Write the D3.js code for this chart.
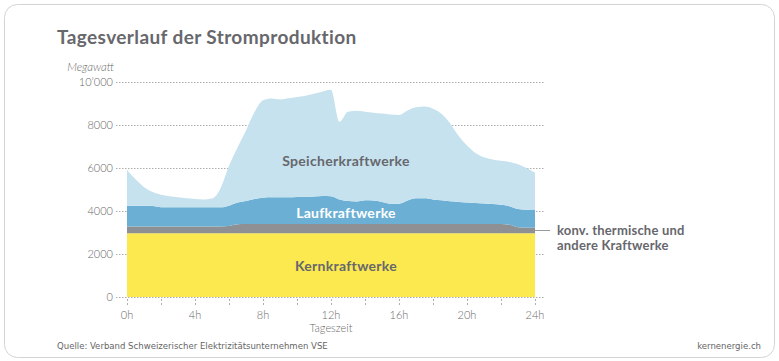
<!DOCTYPE html>
<html>
<head>
<meta charset="utf-8">
<script src="https://cdn.jsdelivr.net/npm/d3@7"></script>
<style>
  body { margin: 0; background: #fff; }
  svg text { font-family: "Lato", "DejaVu Sans", sans-serif; }
</style>
</head>
<body>
<div id="chart"></div>
<script>
// Stunden im Halbstundentakt
const hours = d3.range(0, 24.01, 0.5);

// Megawatt je Kraftwerkstyp (nicht kumuliert)
const kern = [2960,2960,2960,2960,2960,2960,2960,2960,2960,2960,2960,2960,2960,2960,2960,2960,2960,2960,2960,2960,2960,2960,2960,2960,2960,
              2960,2960,2960,2960,2960,2960,2960,2960,2960,2960,2960,2960,2960,2960,2960,2960,2960,2960,2960,2960,2960,2960,2960,2960];
const thermisch = [320,320,320,320,320,320,320,320,320,320,320,320,340,420,430,430,430,430,430,430,430,430,430,430,430,
                   430,430,430,430,430,430,430,430,430,430,430,430,430,430,430,430,430,430,430,430,400,290,270,260];
const lauf = [960,960,960,950,900,890,890,890,890,890,890,890,950,1010,1080,1170,1230,1250,1250,1250,1260,1270,1290,1310,1300,
              1150,1070,1050,1110,1100,1030,950,950,1100,1200,1200,1150,1110,1060,1030,1000,980,960,930,900,860,840,830,830];
const speicher = [1670,1240,880,650,580,520,470,420,390,370,410,880,1850,2560,3280,4040,4530,4590,4550,4600,4650,4700,4770,4860,4950,
                  3610,4160,4220,4120,4080,4110,4150,4130,4190,4230,4270,4220,4020,3630,3080,2660,2330,2150,2080,2050,2060,2090,1940,1730];

const seriesKeys = ["kern", "thermisch", "lauf", "speicher"];
const seriesColors = ["#fce94f", "#8f9093", "#6bb0d4", "#c6e2ef"];

const yTicks = [0, 2000, 4000, 6000, 8000, 10000];
const yTickLabels = ["0", "2000", "4000", "6000", "8000", "10’000"];
const xTicks = d3.range(0, 25, 2);
const xLabelTicks = [0, 4, 8, 12, 16, 20, 24];

const width = 779, height = 361;
const x0 = 127, x1 = 535, yBase = 297, yTop = 82;
const textGray = "#67676c";

const svg = d3.select("#chart").append("svg")
    .attr("width", width)
    .attr("height", height);

// Rahmen
svg.append("rect")
    .attr("x", 4.5).attr("y", 4.5)
    .attr("width", width - 9).attr("height", height - 8)
    .attr("rx", 13)
    .style("fill", "#fff")
    .style("stroke", "#d4d4d4");

svg.append("text")
    .attr("x", 57).attr("y", 44)
    .text("Tagesverlauf der Stromproduktion")
    .style("font-size", "19px")
    .style("font-weight", "bold")
    .style("letter-spacing", "0.4px")
    .style("fill", textGray);

const x = d3.scaleLinear().domain([0, 24]).range([x0, x1]);
const y = d3.scaleLinear().domain([0, 10000]).range([yBase, yTop]);

const table = hours.map((h, i) => ({
    h: h, kern: kern[i], thermisch: thermisch[i], lauf: lauf[i], speicher: speicher[i]
}));
const stacked = d3.stack().keys(seriesKeys)(table);

// Gitterlinien
svg.append("g").selectAll("line")
    .data(yTicks)
    .enter().append("line")
    .attr("x1", 116).attr("x2", 545)
    .attr("y1", d => Math.round(y(d)) + 0.5)
    .attr("y2", d => Math.round(y(d)) + 0.5)
    .style("stroke", "#999")
    .style("stroke-width", 0.8)
    .style("stroke-dasharray", "1.5,1.5");

svg.append("g").selectAll("text")
    .data(yTicks)
    .enter().append("text")
    .attr("x", 113)
    .attr("y", d => y(d) + 4)
    .attr("text-anchor", "end")
    .text((d, i) => yTickLabels[i])
    .style("font-size", "11px")
    .style("font-weight", 300)
    .style("fill", "#6a6a6a");

svg.append("text")
    .attr("x", 114).attr("y", 71)
    .attr("text-anchor", "end")
    .text("Megawatt")
    .style("font-size", "11.5px")
    .style("font-style", "italic")
    .style("font-weight", 300)
    .style("fill", "#6a6a6a");

// Flächen
const area = d3.area()
    .x(d => x(d.data.h))
    .y0(d => y(d[0]))
    .y1(d => y(d[1]))
    .curve(d3.curveMonotoneX);

svg.append("g").selectAll("path")
    .data(stacked)
    .enter().append("path")
    .attr("d", area)
    .style("fill", (d, i) => seriesColors[i]);

// x-Achse
svg.append("g").selectAll("line")
    .data(xTicks)
    .enter().append("line")
    .attr("x1", d => Math.round(x(d)) + 0.5)
    .attr("x2", d => Math.round(x(d)) + 0.5)
    .attr("y1", yBase + 2).attr("y2", yBase + 10)
    .style("stroke", "#999")
    .style("stroke-width", 0.8)
    .style("stroke-dasharray", "2,2");

svg.append("g").selectAll("text")
    .data(xLabelTicks)
    .enter().append("text")
    .attr("x", d => x(d))
    .attr("y", 319)
    .attr("text-anchor", "middle")
    .text(d => d + "h")
    .style("font-size", "11px")
    .style("font-weight", 300)
    .style("fill", "#6a6a6a");

svg.append("text")
    .attr("x", x(12)).attr("y", 332)
    .attr("text-anchor", "middle")
    .text("Tageszeit")
    .style("font-size", "11px")
    .style("font-weight", 300)
    .style("fill", "#6a6a6a");

// Beschriftungen in den Flächen
const labels = [
    { t: "Speicherkraftwerke", y: 166, c: textGray },
    { t: "Laufkraftwerke", y: 218, c: "#fff" },
    { t: "Kernkraftwerke", y: 271, c: textGray }
];
svg.append("g").selectAll("text")
    .data(labels)
    .enter().append("text")
    .attr("x", 346)
    .attr("y", d => d.y)
    .attr("text-anchor", "middle")
    .text(d => d.t)
    .style("font-size", "14px")
    .style("font-weight", "bold")
    .style("letter-spacing", "0.3px")
    .style("fill", d => d.c);

// Legende konv. thermische
svg.append("line")
    .attr("x1", x1).attr("x2", 550)
    .attr("y1", 230.5).attr("y2", 230.5)
    .style("stroke", "#999");

svg.append("text")
    .attr("x", 557).attr("y", 235)
    .text("konv. thermische und")
    .style("font-size", "13px")
    .style("font-weight", "bold")
    .style("letter-spacing", "0.2px")
    .style("fill", textGray);
svg.append("text")
    .attr("x", 557).attr("y", 250)
    .text("andere Kraftwerke")
    .style("font-size", "13px")
    .style("font-weight", "bold")
    .style("letter-spacing", "0.2px")
    .style("fill", textGray);

// Fusszeile
svg.append("text")
    .attr("x", 57).attr("y", 349)
    .text("Quelle: Verband Schweizerischer Elektrizitätsunternehmen VSE")
    .style("font-family", "'Liberation Sans Narrow', 'DejaVu Sans Condensed', sans-serif")
    .style("font-size", "9.5px")
    .style("fill", "#666");

svg.append("text")
    .attr("x", 761).attr("y", 349)
    .attr("text-anchor", "end")
    .text("kernenergie.ch")
    .style("font-family", "'Liberation Sans Narrow', 'DejaVu Sans Condensed', sans-serif")
    .style("font-size", "9.5px")
    .style("fill", "#666");
</script>
</body>
</html>
